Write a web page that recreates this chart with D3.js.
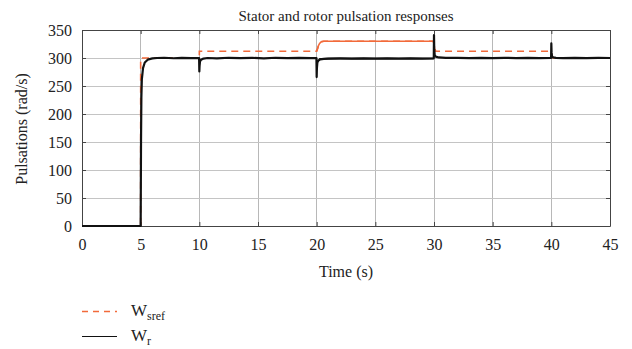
<!DOCTYPE html>
<html><head><meta charset="utf-8">
<script src="https://cdn.jsdelivr.net/npm/d3@7"></script>
<style>body{margin:0;background:#fff}svg{display:block}text{font-family:"Liberation Serif","DejaVu Serif",serif;fill:#222}</style>
</head><body><svg id="c" width="632" height="349"></svg>
<script>
const title = "Stator and rotor pulsation responses";
const xLabel = "Time (s)";
const yLabel = "Pulsations (rad/s)";
const xTicks = [0,5,10,15,20,25,30,35,40,45];
const yTicks = [0,50,100,150,200,250,300,350];

// W_sref (reference)
const tSref = [0,5,5,10,10,20,20.08,20.15,20.25,20.4,20.6,29.95,30.05,30.15,39.95,40.05,40.15,45];
const wSref = [0,0,300,300,312,312,317,322,326,329,330,330,318,312,312,305,300,300];

// W_r (rotor)
const tWr = [0,5,5.03,5.06,5.1,5.2,5.35,5.6,6.0,6.4,7,7.8,8.5,9.3,9.98,10,10.02,10.06,10.15,10.35,10.7,11.5,12.5,13.5,14.5,15.5,16.5,17.5,18.5,19.5,19.98,20,20.02,20.06,20.15,20.3,20.6,21,22,23,24,25,26,27,28,29,29.98,30,30.02,30.06,30.15,30.4,31,32,33,34,35,36,37,38,39,39.98,40,40.02,40.06,40.15,40.4,41,42,43,44,45];
const wr  = [0,0,150,230,262,282,292,297,299.3,300,300.4,299.6,300.3,299.7,300,276,286,294,297,299,300,299.5,300.4,299.6,300.3,299.5,300.4,299.7,300.3,299.6,300,266,282,292,295.5,297.5,298.5,299,299.2,299,299.3,298.9,299.2,299,299.3,299,299.5,341,316,305,302.5,301,300.2,300.4,299.7,300.3,299.6,300.4,299.7,300.3,299.8,300,326,310,303,301,300.3,299.8,300.3,299.7,300.2,300];
// oscillation envelope of W_r between 20 s and 30 s
const tBand = [20.2,21,25,29.95];
const bandLo = [296.8,297.5,297.6,297.6];
const bandHi = [299.6,300.4,300.4,300.4];

const svg = d3.select("#c");
const m = {l:82, r:610, t:30, b:226};
const x = d3.scaleLinear().domain([0,45]).range([m.l, m.r]);
const y = d3.scaleLinear().domain([0,350]).range([m.b, m.t]);

// grid
svg.append("g").selectAll("line").data(xTicks).join("line")
  .attr("x1",d=>x(d)).attr("x2",d=>x(d)).attr("y1",m.t).attr("y2",m.b)
  .attr("stroke","#b8b8b8").attr("stroke-width",1).attr("shape-rendering","crispEdges");
svg.append("g").selectAll("line").data(yTicks).join("line")
  .attr("y1",d=>y(d)).attr("y2",d=>y(d)).attr("x1",m.l).attr("x2",m.r)
  .attr("stroke","#c4c4c4").attr("stroke-width",1).attr("shape-rendering","crispEdges");

// axes
svg.append("g").attr("transform",`translate(0,${m.b})`)
  .call(d3.axisBottom(x).tickValues(xTicks).tickSizeInner(-4).tickSizeOuter(0).tickPadding(13));
svg.append("g").attr("transform",`translate(${m.l},0)`)
  .call(d3.axisLeft(y).tickValues(yTicks).tickSizeInner(-4).tickSizeOuter(0).tickPadding(10));
svg.append("g").attr("transform",`translate(${m.r},0)`)
  .call(d3.axisRight(y).tickValues(yTicks).tickSizeInner(-4).tickSizeOuter(0).tickFormat(""));
svg.append("g").attr("transform",`translate(0,${m.t})`)
  .call(d3.axisTop(x).tickValues(xTicks).tickSizeInner(-4).tickSizeOuter(0).tickFormat(""));
svg.selectAll("g").attr("font-family",null);
svg.selectAll(".domain").attr("stroke","#444");
svg.selectAll(".tick line").attr("stroke","#444");
svg.selectAll(".tick text").attr("font-size",16).attr("fill","#222");

// lines
const line = d3.line().x(d=>x(d[0])).y(d=>y(d[1]));
svg.append("path").datum(tSref.map((t,i)=>[t,wSref[i]]))
  .attr("d",line).attr("fill","none").attr("stroke","#f26a3a").attr("stroke-width",1.6)
  .attr("stroke-dasharray","7,5");
// the 20-30 s segment appears solid because of high-frequency ripple
svg.append("path").datum(tSref.map((t,i)=>[t,wSref[i]]).filter(d=>d[0]>=20&&d[0]<=30.05))
  .attr("d",line).attr("fill","none").attr("stroke","#f26a3a").attr("stroke-width",1.6);

svg.append("path").datum(tBand.map((t,i)=>[t,bandLo[i],bandHi[i]]))
  .attr("d",d3.area().x(d=>x(d[0])).y0(d=>y(d[1])).y1(d=>y(d[2])))
  .attr("fill","#111");
svg.append("path").datum(tWr.map((t,i)=>[t,wr[i]]))
  .attr("d",line).attr("fill","none").attr("stroke","#111").attr("stroke-width",2.2)
  .attr("stroke-linejoin","round");

// titles
svg.append("text").attr("x",346).attr("y",21).attr("text-anchor","middle")
  .attr("font-size",15).text(title);
svg.append("text").attr("x",346).attr("y",277).attr("text-anchor","middle")
  .attr("font-size",16).text(xLabel);
svg.append("text").attr("transform","translate(27,129) rotate(-90)").attr("text-anchor","middle")
  .attr("font-size",16).text(yLabel);

// legend
const leg = [{name:"W",sub:"sref",color:"#f26a3a",dash:"6,5",w:1.4,y:311.5},
             {name:"W",sub:"r",color:"#111",dash:null,w:1.2,y:336.5}];
leg.forEach(l=>{
  svg.append("line").attr("x1",82).attr("x2",117).attr("y1",l.y).attr("y2",l.y)
    .attr("stroke",l.color).attr("stroke-width",l.w).attr("stroke-dasharray",l.dash);
  const t = svg.append("text").attr("x",131).attr("y",l.y+4.5).attr("font-size",17);
  t.append("tspan").text(l.name);
  t.append("tspan").attr("dy",4).attr("font-size",12).text(l.sub);
});
</script></body></html>
